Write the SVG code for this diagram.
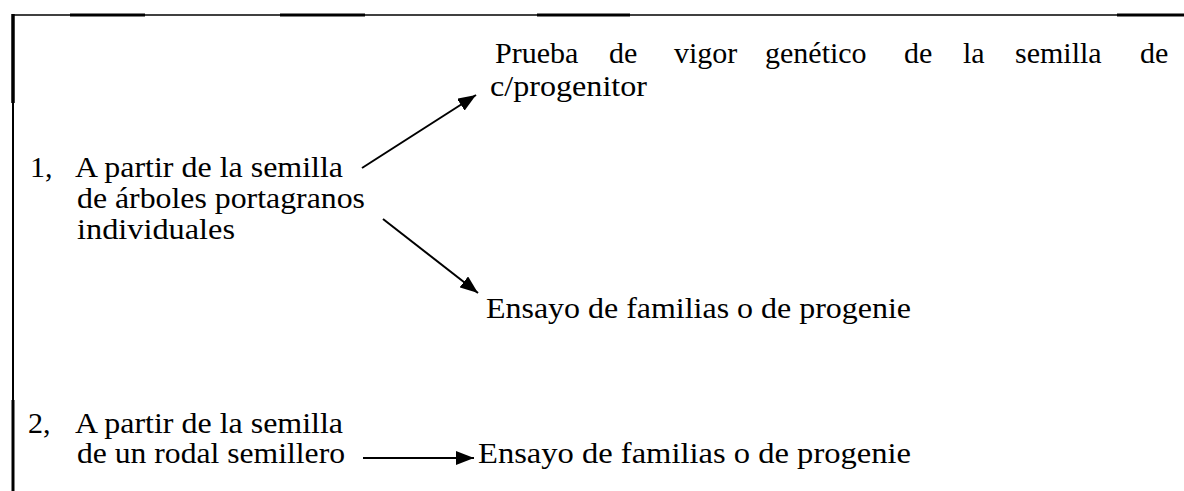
<svg xmlns="http://www.w3.org/2000/svg" width="1184" height="491" viewBox="0 0 1184 491">
  <defs>
    <style>
      text { fill: #000; }
      .edge { stroke: #000; stroke-width: 2; fill: none; }
      .frame { stroke: #000; fill: none; }
    </style>
    <marker id="ah" markerUnits="userSpaceOnUse" markerWidth="20" markerHeight="14" refX="18" refY="7" orient="auto">
      <path d="M0,0 L18,7 L0,14 Z" fill="#000"/>
    </marker>
  </defs>
  <rect width="1184" height="491" fill="#fff"/>

  <g id="frame">
    <line class="frame" x1="12" y1="15" x2="1184" y2="15" stroke-width="1.6"/>
    <line class="frame" x1="70" y1="15" x2="145" y2="15" stroke-width="3"/>
    <line class="frame" x1="280" y1="15" x2="365" y2="15" stroke-width="3"/>
    <line class="frame" x1="537" y1="15" x2="630" y2="15" stroke-width="3"/>
    <line class="frame" x1="1117" y1="15" x2="1184" y2="15" stroke-width="3"/>
    <line class="frame" x1="13" y1="14" x2="13" y2="491" stroke-width="2"/>
    <line class="frame" x1="13" y1="14" x2="13" y2="103" stroke-width="3.5"/>
    <line class="frame" x1="13" y1="400" x2="13" y2="491" stroke-width="3"/>
  </g>

  <g font-family="'Liberation Serif', 'DejaVu Serif', serif" font-size="30">
    <g id="n-prueba">
      <text y="63"><tspan x="495">Prueba</tspan><tspan x="609">de</tspan><tspan x="674">vigor</tspan><tspan x="765">genético</tspan><tspan x="904">de</tspan><tspan x="963">la</tspan><tspan x="1015">semilla</tspan><tspan x="1140">de</tspan></text>
      <text x="490" y="96" textLength="157" lengthAdjust="spacingAndGlyphs">c/progenitor</text>
    </g>

    <g id="n-origen1">
      <text x="30" y="177">1,</text>
      <text x="75" y="177" textLength="268" lengthAdjust="spacingAndGlyphs">A partir de la semilla</text>
      <text x="77" y="208" textLength="288" lengthAdjust="spacingAndGlyphs">de árboles portagranos</text>
      <text x="77" y="239" textLength="158" lengthAdjust="spacingAndGlyphs">individuales</text>
    </g>

    <g id="n-ensayo1">
      <text x="486" y="318" textLength="425" lengthAdjust="spacingAndGlyphs">Ensayo de familias o de progenie</text>
    </g>

    <g id="n-origen2">
      <text x="28" y="433">2,</text>
      <text x="75" y="433" textLength="268" lengthAdjust="spacingAndGlyphs">A partir de la semilla</text>
      <text x="77" y="463" textLength="268" lengthAdjust="spacingAndGlyphs">de un rodal semillero</text>
    </g>

    <g id="n-ensayo2">
      <text x="478" y="463" textLength="433" lengthAdjust="spacingAndGlyphs">Ensayo de familias o de progenie</text>
    </g>
  </g>

  <g id="connectors">
    <line class="edge" x1="362" y1="168" x2="476" y2="95" marker-end="url(#ah)"/>
    <line class="edge" x1="383" y1="219" x2="478" y2="293" marker-end="url(#ah)"/>
    <line class="edge" x1="363" y1="458" x2="474" y2="458" marker-end="url(#ah)"/>
  </g>
</svg>
